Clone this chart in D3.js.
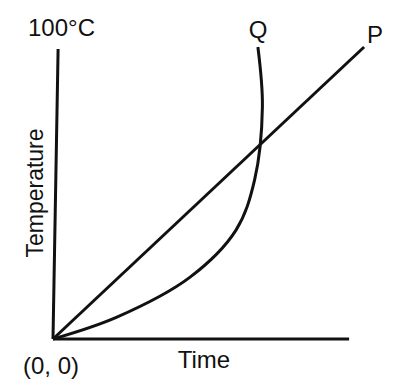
<!DOCTYPE html>
<html>
<head>
<meta charset="utf-8">
<script src="https://cdn.jsdelivr.net/npm/d3@7"></script>
<style>
  html, body { margin: 0; padding: 0; background: #fff; }
  svg { display: block; }
  text { font-family: "Liberation Sans", Arial, sans-serif; fill: #111; }
</style>
</head>
<body>
<svg width="400" height="392"></svg>
<script>
// schematic heating curves, time vs temperature (arbitrary units 0..100)
const lineP = [[0, 0], [103.7, 100]]
const curveQ = [
  [0, 0], [21.3, 7.5], [45.7, 21.2], [61, 37.3], [67.2, 54.5],
  [69.8, 79.5], [68.3, 100]
]
const xAxisLine = [[0, 0], [98.7, 0]]
const yAxisLine = [[0, 0], [1.7, 99.3]]
const labels = { top: '100°C', origin: '(0, 0)', x: 'Time', y: 'Temperature', p: 'P', q: 'Q' }

const svg = d3.select('svg')
const x = d3.scaleLinear().domain([0, 100]).range([53, 353])
const y = d3.scaleLinear().domain([0, 100]).range([339, 47])

const line = d3.line().x(d => x(d[0])).y(d => y(d[1]))
const smooth = d3.line().x(d => x(d[0])).y(d => y(d[1])).curve(d3.curveCatmullRom.alpha(0.5))

const draw = (data, gen) => svg.append('path')
  .attr('d', gen(data))
  .attr('fill', 'none')
  .attr('stroke', '#111')
  .attr('stroke-width', 3)
  .attr('stroke-linecap', 'butt')

draw(xAxisLine, line)
draw(yAxisLine, line)
draw(lineP, line)
draw(curveQ, smooth)

const label = (t, px, py, anchor) => svg.append('text')
  .attr('x', px).attr('y', py)
  .attr('text-anchor', anchor || 'start')
  .attr('font-size', 24)
  .text(t)

label(labels.top, 28, 36)
label(labels.q, 258, 38, 'middle')
label(labels.p, 375, 43, 'middle')
label(labels.origin, 51, 374, 'middle')
label(labels.x, 204, 368, 'middle')

svg.append('text')
  .attr('transform', 'translate(43,193) rotate(-90)')
  .attr('text-anchor', 'middle')
  .attr('font-size', 23)
  .text(labels.y)
</script>
</body>
</html>
